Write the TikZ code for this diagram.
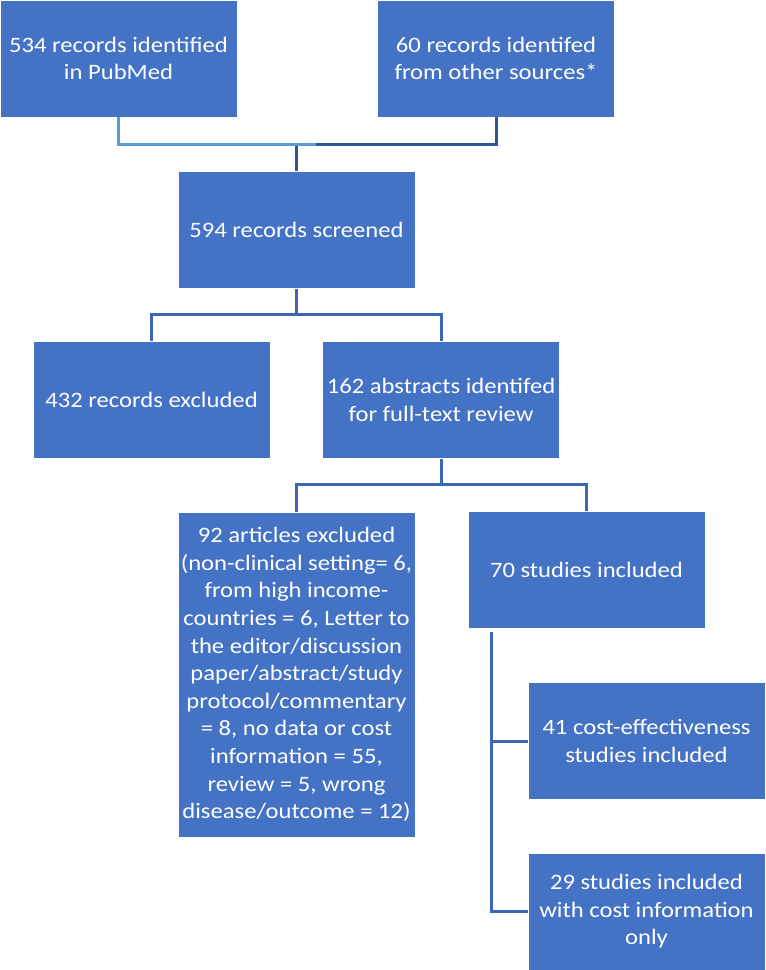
\documentclass[tikz,border=0pt]{standalone}
\usepackage{fontspec}
\setmainfont{Carlito}[FakeStretch=1.12]
\definecolor{boxblue}{HTML}{4472C4}
\definecolor{linkblue}{HTML}{3C67B8}
\definecolor{darkblue}{HTML}{2F5597}
\definecolor{lightblue}{HTML}{5B9BD5}

\begin{document}
\begin{tikzpicture}[x=1pt,y=-1pt,line width=3pt]
	\tikzstyle{box}=[draw=white,line width=0.8pt,fill=boxblue,text=white,align=center,minimum width=237pt,minimum height=117pt,inner sep=2pt,font=\fontsize{22}{27.6}\selectfont];
	\tikzstyle{link}=[draw=linkblue];
	\useasboundingbox (0,0) rectangle (766,970);

	\node[box] (pubmed) at (118.5,58.5) {534 records identified\\in PubMed};
	\node[box] (other) at (496,58.5) {60 records identifed\\from other sources*};
	\node[box] (screened) at (296.5,230) {594 records screened};
	\node[box] (excl) at (151.5,400) {432 records excluded};
	\node[box] (abstr) at (441,400) {162 abstracts identifed\\for full-text review};
	\node[box,minimum height=325pt] (artexcl) at (296.5,674.5) {92 articles excluded\\(non-clinical setting= 6,\\from high income-\\countries = 6, Letter to\\the editor/discussion\\paper/abstract/study\\protocol/commentary\\= 8, no data or cost\\information = 55,\\review = 5, wrong\\disease/outcome = 12)};
	\node[box] (incl) at (586.5,570) {70 studies included};
	\node[box] (costeff) at (646.5,741) {41 cost-effectiveness\\studies included};
	\node[box] (costonly) at (646.5,911.5) {29 studies included\\with cost information\\only};

	\coordinate (join) at (296.5,144);
	\coordinate (split1) at (296.5,314);
	\coordinate (split2) at (441,484);
	\coordinate (trunk) at (491,632);

	\draw[darkblue] (other.south) |- (join) -- (screened.north);
	\draw[lightblue] (pubmed.south) |- (316,144);
	\draw[link] (screened.south) -- (split1) (excl.north) |- (split1) -| (abstr.north);
	\draw[link] (abstr.south) -- (split2) (artexcl.north) |- (split2) -| (incl.north);
	\draw[link] (trunk) |- (costonly.west) (trunk |- costeff.west) -- (costeff.west);
\end{tikzpicture}
\end{document}
